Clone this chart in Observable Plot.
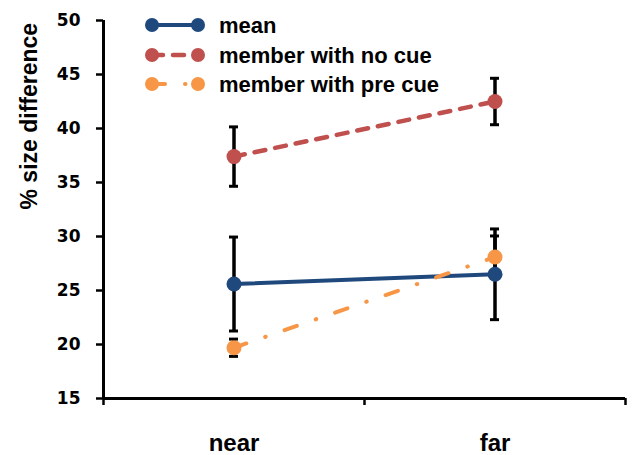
<!DOCTYPE html>
<html><head><meta charset="utf-8">
<script src="https://cdn.jsdelivr.net/npm/d3@7"></script>
<script src="https://cdn.jsdelivr.net/npm/@observablehq/plot@0.6"></script>
<style>
body{margin:0;background:#fff;}
#wrap{position:relative;width:633px;height:455px;}
#legend{position:absolute;left:0;top:0;pointer-events:none;}
</style></head><body><div id="wrap"></div>
<script>
const categories = ["near", "far"];
const seriesNames = ["mean", "member with no cue", "member with pre cue"];
const meanValues = [25.6, 26.5];
const meanErrors = [4.35, 4.2];
const noCueValues = [37.4, 42.5];
const noCueErrors = [2.75, 2.15];
const preCueValues = [19.7, 28.1];
const preCueErrors = [0.8, 1.95];
const yTicks = [15, 20, 25, 30, 35, 40, 45, 50];
const colors = ["#1F497D", "#C0504D", "#F79646"];
const dashes = [null, "11,10", "13,20,0.5,20"];
const widths = [4, 4.5, 4];

const LBL = "'Liberation Sans', Arial, sans-serif";
const TICK = "'DejaVu Sans', sans-serif";
const valueSets = [meanValues, noCueValues, preCueValues];
const errorSets = [meanErrors, noCueErrors, preCueErrors];
const rows = [];
seriesNames.forEach((s, si) => categories.forEach((c, ci) => rows.push({
  series: s, si, cat: c, x: ci + 0.5, y: valueSets[si][ci],
  lo: valueSets[si][ci] - errorSets[si][ci], hi: valueSets[si][ci] + errorSets[si][ci]
})));

const marks = [];
// error bars
marks.push(Plot.ruleX(rows, {x: "x", y1: "lo", y2: "hi", stroke: "black", strokeWidth: 3.5}));
marks.push(Plot.ruleY(rows, {x1: "x", x2: "x", y: "hi", stroke: "black", strokeWidth: 3, insetLeft: -4.5, insetRight: -4.5}));
marks.push(Plot.ruleY(rows, {x1: "x", x2: "x", y: "lo", stroke: "black", strokeWidth: 3, insetLeft: -4.5, insetRight: -4.5}));
// lines
seriesNames.forEach((s, si) => {
  marks.push(Plot.line(rows.filter(r => r.si === si), {
    x: "x", y: "y", stroke: colors[si], strokeWidth: widths[si],
    strokeDasharray: dashes[si], strokeLinecap: "round"
  }));
});
seriesNames.forEach((s, si) => {
  marks.push(Plot.dot(rows.filter(r => r.si === si), {x: "x", y: "y", r: 7.5, fill: colors[si]}));
});
// axes
marks.push(Plot.ruleX([0], {stroke: "black", strokeWidth: 3}));
marks.push(Plot.ruleY([15], {stroke: "black", strokeWidth: 3}));
marks.push(Plot.axisY({ticks: yTicks, tickSize: 7, tickPadding: 16, strokeWidth: 2.5, stroke: "black", label: null,
  fontFamily: TICK, fontSize: 17, fontWeight: "bold", fill: "black"}));
marks.push(Plot.axisX({ticks: [0, 1, 2], tickSize: 7, tickFormat: () => "", strokeWidth: 2.5, stroke: "black", label: null}));
marks.push(Plot.axisX({ticks: categories.map((c, i) => i + 0.5), tickSize: 0, tickPadding: 35,
  tickFormat: d => categories[Math.floor(d)], label: null, fontFamily: LBL, fontSize: 24, fontWeight: "bold", fill: "black"}));
marks.push(Plot.text(["% size difference"], {frameAnchor: "left", dx: -74, rotate: -90,
  fontFamily: LBL, fontSize: 23, fontWeight: "bold", fill: "black"}));

const chart = Plot.plot({
  width: 633, height: 455,
  marginLeft: 103, marginRight: 8, marginTop: 20, marginBottom: 57,
  x: {type: "linear", domain: [0, 2]},
  y: {domain: [15, 50]},
  style: {fontFamily: LBL, fontSize: "18px", fontWeight: "bold", color: "black", background: "white"},
  marks
});
const wrap = document.getElementById("wrap");
wrap.appendChild(chart);

// legend overlay
const leg = d3.select(wrap).append("svg").attr("id", "legend").attr("width", 633).attr("height", 120);
const legY = [25, 55, 84];
seriesNames.forEach((s, si) => {
  const y = legY[si];
  const g = leg.append("g");
  g.append("line").attr("x1", 152).attr("x2", 198).attr("y1", y).attr("y2", y)
    .attr("stroke", colors[si]).attr("stroke-width", widths[si])
    .attr("stroke-dasharray", dashes[si]).attr("stroke-linecap", "round");
  g.append("circle").attr("cx", 152).attr("cy", y).attr("r", 7).attr("fill", colors[si]);
  g.append("circle").attr("cx", 198).attr("cy", y).attr("r", 7).attr("fill", colors[si]);
  g.append("text").attr("x", 219).attr("y", y + 8)
    .attr("font-family", LBL).attr("font-size", 22).attr("font-weight", "bold").attr("fill", "black").text(s);
});
</script></body></html>
